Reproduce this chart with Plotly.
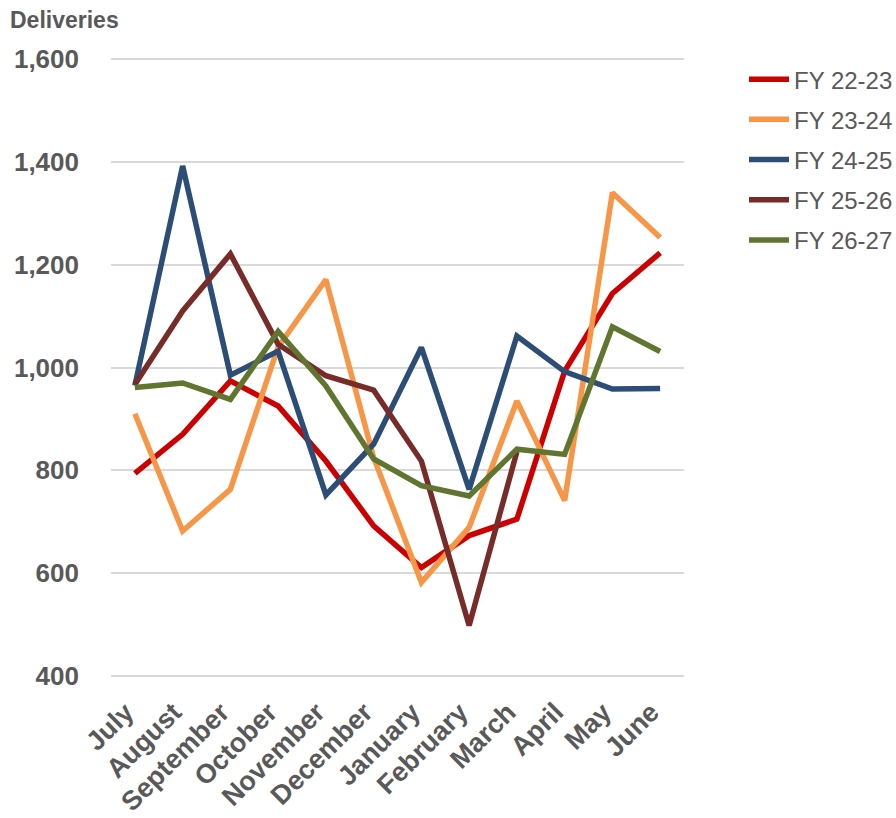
import plotly.graph_objects as go

months = ["July", "August", "September", "October", "November", "December",
          "January", "February", "March", "April", "May", "June"]
series_names = ["FY 22-23", "FY 23-24", "FY 24-25", "FY 25-26", "FY 26-27"]
fy_22_23 = [794, 870, 974, 925, 818, 692, 611, 673, 705, 993, 1144, 1223]
fy_23_24 = [910, 682, 763, 1040, 1171, 825, 582, 689, 935, 741, 1340, 1253]
fy_24_25 = [965, 1392, 985, 1032, 752, 851, 1039, 763, 1061, 992, 958, 959]
fy_25_26 = [967, 1110, 1221, 1045, 984, 956, 818, 498, 836, None, None, None]
fy_26_27 = [961, 970, 938, 1070, 964, 822, 770, 750, 841, 831, 1079, 1031]
y_ticks = [400, 600, 800, 1000, 1200, 1400, 1600]

colors = ["#CC0000", "#F79646", "#2C4D75", "#772C2A", "#5F7530"]
all_series = [fy_22_23, fy_23_24, fy_24_25, fy_25_26, fy_26_27]

font_family = "Arial, Liberation Sans, sans-serif"
grey = "#595959"

fig = go.Figure()
for name, vals, col in zip(series_names, all_series, colors):
    fig.add_trace(go.Scatter(
        x=months, y=vals, name=name, mode="lines",
        line=dict(color=col, width=5.5, shape="linear"),
        legendgroup=name, connectgaps=False,
    ))

px_per_unit = 617 / 1200
pad_units = 4
plot_h = 617 + 2 * pad_units * px_per_unit
top = 59 - pad_units * px_per_unit
plot_w = 573
fig.update_layout(
    width=896, height=818,
    margin=dict(l=111, r=896 - 111 - plot_w, t=top, b=818 - top - plot_h,
                autoexpand=False),
    paper_bgcolor="white", plot_bgcolor="white",
    font=dict(family=font_family, color=grey),
    showlegend=True,
    legend=dict(
        x=(744 - 111) / plot_w, y=1 + (top - 57) / plot_h, xanchor="left", yanchor="top",
        font=dict(size=24, color=grey, family=font_family),
        tracegroupgap=6, itemwidth=40,
        bgcolor="rgba(0,0,0,0)",
    ),
    annotations=[dict(
        text="<b>Deliveries</b>", xref="paper", yref="paper",
        x=-103 / plot_w, y=1 + (top - 20) / plot_h, xanchor="left", yanchor="middle",
        showarrow=False, font=dict(size=23, color=grey, family=font_family),
    )],
)

fig.update_xaxes(
    type="category", range=[-0.5, 11.5],
    showgrid=False, showline=False, zeroline=False,
    tickangle=-45,
    tickfont=dict(size=27, color=grey, family=font_family, weight="bold"),
    ticks="",
    ticklabelstandoff=12,
    ticklabelshift=-9,
)
fig.update_yaxes(
    range=[400 - pad_units, 1600 + pad_units], tickvals=y_ticks,
    tickformat=",d",
    showgrid=True, gridcolor="#D9D9D9", gridwidth=2,
    zeroline=False, showline=False, ticks="",
    ticklabelstandoff=31,
    tickfont=dict(size=26, color=grey, family=font_family, weight="bold"),
)

fig.write_html("out.html")
